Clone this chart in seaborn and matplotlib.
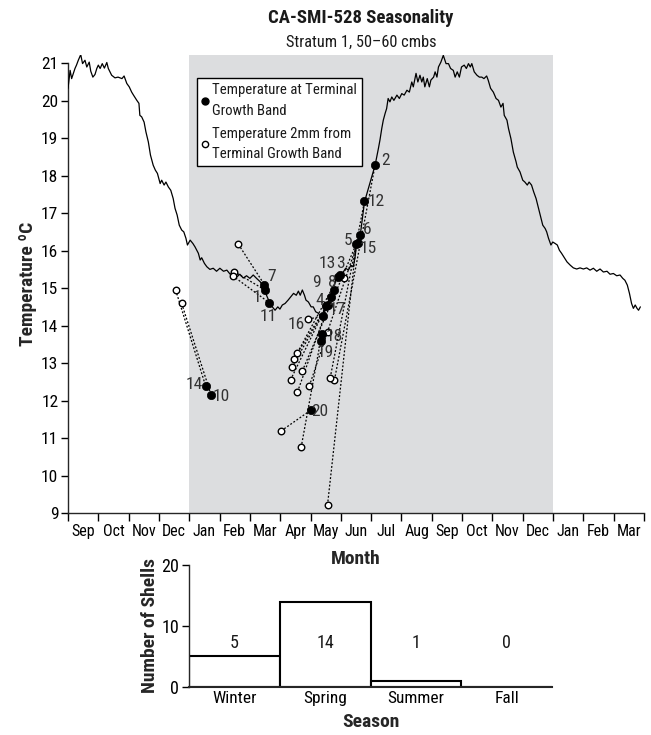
import matplotlib
matplotlib.use("Agg")
import matplotlib.pyplot as plt
from matplotlib import font_manager as fm
from matplotlib.lines import Line2D
import seaborn as sns
import pandas as pd

# ---------------- data ----------------
# x positions are in months since 1 Sep (first year); 0 = start of Sep
month_labels = ["Sep", "Oct", "Nov", "Dec", "Jan", "Feb", "Mar", "Apr", "May", "Jun",
                "Jul", "Aug", "Sep", "Oct", "Nov", "Dec", "Jan", "Feb", "Mar"]
shade_start = 4.0   # 1 Jan
shade_end = 16.0    # 1 Jan next year

line_month = [0.00, 0.07, 0.12, 0.23, 0.28, 0.34, 0.42, 0.48, 0.56, 0.62, 0.70, 0.75, 0.82, 0.89,
              0.95, 1.00, 1.06, 1.13, 1.20, 1.28, 1.33, 1.44, 1.55, 1.65, 1.78, 1.85, 1.94, 2.02,
              2.10, 2.16, 2.27, 2.34, 2.37, 2.43, 2.51, 2.57, 2.65, 2.72, 2.81, 2.88, 2.95, 3.04,
              3.09, 3.17, 3.23, 3.31, 3.39, 3.47, 3.53, 3.60, 3.67, 3.75, 3.82, 3.89, 3.94, 4.03,
              4.12, 4.19, 4.30, 4.36, 4.41, 4.50, 4.58, 4.68, 4.79, 4.90, 5.01, 5.13, 5.24, 5.35,
              5.46, 5.57, 5.67, 5.78, 5.89, 6.00, 6.11, 6.22, 6.34, 6.45, 6.50, 6.59, 6.67, 6.74,
              6.83, 6.92, 6.99, 7.07, 7.16, 7.26, 7.35, 7.44, 7.53, 7.60, 7.66, 7.73, 7.80, 7.85,
              7.93, 8.02, 8.09, 8.17, 8.26, 8.34, 8.42, 8.54, 8.65, 8.72, 8.87, 8.97, 9.08, 9.16,
              9.25, 9.33, 9.41, 9.47, 9.52, 9.64, 9.78, 10.13, 10.24, 10.29, 10.35, 10.40, 10.46,
              10.51, 10.56, 10.62, 10.68, 10.75, 10.85, 10.93, 11.01, 11.09, 11.18, 11.26, 11.34,
              11.39, 11.48, 11.54, 11.61, 11.67, 11.72, 11.77, 11.85, 11.92, 11.97, 12.06, 12.11,
              12.17, 12.22, 12.30, 12.38, 12.47, 12.55, 12.62, 12.71, 12.77, 12.84, 12.91, 12.98,
              13.07, 13.14, 13.21, 13.27, 13.32, 13.40, 13.49, 13.57, 13.65, 13.72, 13.81, 13.86,
              13.94, 14.03, 14.12, 14.20, 14.28, 14.35, 14.39, 14.48, 14.53, 14.61, 14.69, 14.78,
              14.82, 14.91, 15.00, 15.07, 15.15, 15.21, 15.29, 15.36, 15.44, 15.52, 15.60, 15.66,
              15.74, 15.79, 15.85, 15.93, 15.99, 16.07, 16.14, 16.21, 16.28, 16.36, 16.46, 16.57,
              16.67, 16.78, 16.89, 17.00, 17.11, 17.22, 17.33, 17.44, 17.55, 17.66, 17.78, 17.88,
              17.99, 18.10, 18.21, 18.30, 18.37, 18.45, 18.52, 18.59, 18.65, 18.71, 18.77, 18.82,
              18.88]
line_temp = [20.33, 20.81, 20.59, 20.86, 20.95, 21.08, 21.23, 20.99, 21.08, 20.90, 21.03, 20.79, 20.63, 20.70,
             20.86, 20.95, 20.86, 20.99, 20.87, 21.02, 20.86, 20.68, 20.61, 20.63, 20.59, 20.66, 20.46, 20.37,
             20.23, 20.15, 20.01, 19.93, 19.61, 19.57, 19.43, 19.17, 18.90, 18.55, 18.28, 18.15, 18.06, 17.79,
             17.88, 17.75, 17.83, 17.70, 17.61, 17.39, 17.13, 16.95, 16.68, 16.55, 16.50, 16.33, 16.15, 16.28,
             16.19, 16.10, 15.93, 15.75, 15.81, 15.66, 15.57, 15.50, 15.53, 15.45, 15.53, 15.45, 15.48, 15.37,
             15.43, 15.30, 15.37, 15.27, 15.33, 15.26, 15.35, 15.26, 15.17, 15.03, 14.90, 14.73, 14.59, 14.50,
             14.41, 14.50, 14.44, 14.55, 14.59, 14.68, 14.77, 14.86, 14.81, 14.92, 14.81, 14.95, 14.81, 14.68,
             14.63, 14.50, 14.50, 14.37, 14.33, 14.23, 14.27, 14.53, 14.77, 14.95, 15.30, 15.35, 15.43, 15.53,
             15.48, 15.61, 15.57, 15.83, 16.19, 16.41, 17.30, 18.28, 18.73, 18.95, 19.26, 19.48, 19.66,
             19.79, 20.06, 19.97, 20.10, 20.01, 20.15, 20.06, 20.19, 20.15, 20.28, 20.23, 20.50,
             20.37, 20.73, 20.50, 20.68, 20.50, 20.63, 20.37, 20.59, 20.37, 20.55, 20.63, 20.77,
             20.63, 20.90, 21.03, 21.21, 20.99, 20.99, 20.86, 20.81, 20.63, 20.77, 20.63, 20.90,
             20.95, 20.86, 20.99, 20.90, 20.99, 20.77, 20.68, 20.63, 20.63, 20.59, 20.66, 20.55,
             20.33, 20.23, 20.06, 20.01, 19.83, 19.93, 19.61, 19.48, 19.26, 18.99, 18.63, 18.37,
             18.23, 18.10, 17.88, 17.83, 17.75, 17.83, 17.75, 17.57, 17.39, 17.13, 16.86, 16.68,
             16.59, 16.50, 16.33, 16.15, 16.23, 16.19, 16.15, 16.01, 15.93, 15.83, 15.70, 15.61,
             15.54, 15.51, 15.54, 15.51, 15.54, 15.48, 15.53, 15.45, 15.51, 15.43, 15.45, 15.37,
             15.39, 15.33, 15.35, 15.26, 15.21, 15.08, 14.86, 14.59, 14.46, 14.55, 14.46, 14.41,
             14.50]

shell_ids = list(range(1, 21))
terminal_month = [6.50, 10.13, 8.97, 8.52, 9.51, 9.64, 6.48, 8.76, 8.67, 4.72,
                  6.64, 9.78, 8.92, 4.54, 9.55, 8.40, 8.56, 8.37, 8.33, 8.02]
terminal_temp = [14.95, 18.28, 15.35, 14.51, 16.17, 16.43, 15.09, 14.95, 14.77, 12.15,
                 14.61, 17.32, 15.30, 12.39, 16.21, 14.26, 14.56, 13.77, 13.59, 11.75]
prior_month = [5.48, 8.79, 9.12, 7.44, 8.56, 7.73, 5.62, 7.57, 7.34, 3.75,
               5.43, 8.65, 7.57, 3.55, 7.96, 7.93, 7.39, 8.56, 7.69, 7.03]
prior_temp = [15.44, 12.55, 15.27, 13.10, 9.21, 12.79, 16.17, 12.23, 12.55, 14.59,
              15.33, 12.61, 13.28, 14.95, 12.39, 14.17, 12.90, 13.83, 10.75, 11.19]
# label offsets (pixels right, pixels down) relative to the filled point
label_dx = [-8, 10, 1, -7, -8, 7, 7, -1, -14, 10, -1, 12, -11, -11, 11, -26, 10, 13, 5, 9]
label_dy = [8, -5, -12, -6, -4, -5, -8, -7, -14, 2, 14, 0, -13, -1, 6, 9, 5, 2, 12, 2]

seasons = ["Winter", "Spring", "Summer", "Fall"]
season_counts = [5, 14, 1, 0]
count_label_y = 7.2

# ---------------- font choice (narrow face if one is installed) ----------------
entries = fm.fontManager.ttflist
names = {f.name for f in entries}
family, stretch = None, "normal"
for cand in ["Liberation Sans Narrow", "Roboto Condensed", "Arial Narrow",
             "Open Sans Condensed", "Noto Sans Condensed", "DejaVu Sans Condensed"]:
    if cand in names:
        family = cand
        break
if family is None:
    for f in entries:
        st = str(f.stretch)
        if st in ("condensed", "semi-condensed", "extra-condensed") and f.name in (
                "DejaVu Sans", "Noto Sans", "Roboto", "Open Sans", "Liberation Sans", "Lato"):
            family, stretch = f.name, st
            break
if family is None:
    family = "Roboto"

# ---------------- style ----------------
sns.set_theme(style="ticks")
plt.rcParams["font.family"] = [family, "DejaVu Sans"]
plt.rcParams["font.stretch"] = stretch
plt.rcParams["axes.linewidth"] = 1.0
plt.rcParams["xtick.color"] = "black"
plt.rcParams["ytick.color"] = "black"
plt.rcParams["text.color"] = "#1a1a1a"

W, H = 651, 735
fig = plt.figure(figsize=(W / 100, H / 100), dpi=100)
fig.patch.set_facecolor("white")

# ---------------- top panel ----------------
ax = fig.add_axes([68 / W, 1 - 513 / H, (644 - 68) / W, (513 - 55) / H])
ax.set_facecolor("white")
ax.axvspan(shade_start, shade_end, color="#dcdddf", zorder=0, lw=0)

line_df = pd.DataFrame({"month": line_month, "temp": line_temp})
sns.lineplot(data=line_df, x="month", y="temp", ax=ax, color="black", lw=0.9,
             estimator=None, sort=False, zorder=3)

for i in range(len(shell_ids)):
    ax.plot([prior_month[i], terminal_month[i]], [prior_temp[i], terminal_temp[i]],
            color="black", lw=0.9, ls=(0, (1.5, 1.5)), zorder=2)

sns.scatterplot(x=prior_month, y=prior_temp, ax=ax, color="white", edgecolor="black",
                s=22, linewidth=1.0, zorder=4)
sns.scatterplot(x=terminal_month, y=terminal_temp, ax=ax, color="black", edgecolor="black",
                s=36, linewidth=0.5, zorder=5)

for i, sid in enumerate(shell_ids):
    ax.annotate(str(sid), (terminal_month[i], terminal_temp[i]),
                xytext=(label_dx[i] * 0.72, -label_dy[i] * 0.72), textcoords="offset points",
                ha="center", va="center", fontsize=12.5, color="#333333", zorder=6)

ax.set_xlim(0, len(month_labels))
ax.set_ylim(9, 21.22)
ax.set_xticks(range(len(month_labels) + 1))
ax.set_xticklabels([])
ax.set_xticks([m + 0.5 for m in range(len(month_labels))], minor=True)
ax.set_xticklabels(month_labels, minor=True, fontsize=11.5)
ax.tick_params(axis="x", which="major", length=6, width=1, direction="out")
ax.tick_params(axis="x", which="minor", length=0, pad=8)
ax.set_yticks(range(9, 22))
ax.tick_params(axis="y", length=5, width=1, labelsize=12.5, pad=2)
sns.despine(ax=ax)
ax.spines["left"].set_bounds(9, 21)
ax.set_xlabel("Month", fontsize=14, fontweight="bold", labelpad=8)
ax.set_ylabel("Temperature ºC", fontsize=14, fontweight="bold", labelpad=3)

handles = [Line2D([], [], marker="o", ls="none", color="black", markersize=5),
           Line2D([], [], marker="o", ls="none", markerfacecolor="white",
                  markeredgecolor="black", markersize=4.5, markeredgewidth=1)]
leg = ax.legend(handles, ["Temperature at Terminal\nGrowth Band",
                          "Temperature 2mm from\nTerminal Growth Band"],
                loc="upper left", bbox_to_anchor=((197 - 68) / 576, (513 - 78) / 458),
                frameon=True, fancybox=False, framealpha=1, edgecolor="black",
                fontsize=10.6, handlelength=0.45, handletextpad=0.25, labelspacing=0.6,
                borderpad=0.35, borderaxespad=0)
for t in leg.get_texts():
    t.set_linespacing(1.6)
leg.get_frame().set_linewidth(1.0)
leg.set_zorder(10)

fig.text(361 / W, 1 - 18 / H, "CA-SMI-528 Seasonality", ha="center", va="center",
         fontsize=13.5, fontweight="bold")
fig.text(361 / W, 1 - 42 / H, "Stratum 1, 50–60 cmbs", ha="center", va="center", fontsize=11.8)

# ---------------- bottom panel ----------------
ax2 = fig.add_axes([189 / W, 1 - 686.7 / H, (552 - 189) / W, (686.7 - 565) / H])
ax2.set_facecolor("white")
season_df = pd.DataFrame({"season": seasons, "count": season_counts})
sns.barplot(data=season_df, x="season", y="count", ax=ax2, color="white",
            edgecolor="black", linewidth=1.5, width=1.0, saturation=1)
for i, c in enumerate(season_counts):
    ax2.text(i, count_label_y, str(c), ha="center", va="center", fontsize=13)
ax2.set_xlim(-0.5, len(seasons) - 0.5)
ax2.set_ylim(0, 20)
ax2.set_yticks([0, 10, 20])
ax2.tick_params(axis="y", length=5, width=1, labelsize=13, pad=2)
ax2.tick_params(axis="x", length=0, labelsize=12.5, pad=3)
sns.despine(ax=ax2)
ax2.spines["bottom"].set_linewidth(1.5)
ax2.set_xlabel("Season", fontsize=14, fontweight="bold", labelpad=5)
ax2.set_ylabel("Number of Shells", fontsize=14, fontweight="bold", labelpad=2)

fig.savefig("out.png", dpi=100, facecolor="white")
